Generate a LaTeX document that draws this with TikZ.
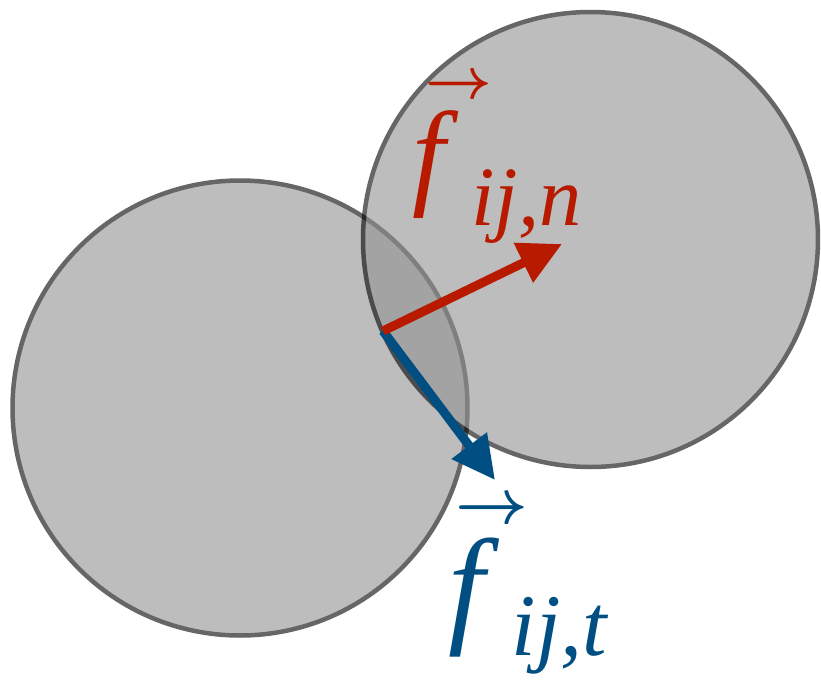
\RequirePackage{fix-cm}
\documentclass[tikz,border=0pt]{standalone}
\usepackage{fontspec}
\setmainfont{Liberation Serif}
\usepackage{tikz}
\usetikzlibrary{arrows.meta}
\usepackage{xcolor}
\definecolor{normalred}{RGB}{184,26,0}
\definecolor{tangentblue}{RGB}{0,78,130}

\begin{document}
\begin{tikzpicture}[
      x=0.1mm, y=-0.1mm,
      grain/.style={circle, draw=black, fill=black!43, line width=0.45mm,
                    minimum size=45.5mm, inner sep=0pt},
      force/.style={-{Triangle[length=4.3mm, width=4.2mm]}, line width=0.9mm},
      flabel/.style={anchor=base west, inner sep=0pt}
    ]
    \useasboundingbox (0,0) rectangle (821,683);
    \begin{scope}[transparency group, opacity=0.6]
      \node[grain] (pi) at (240,408) {};
    \end{scope}
    \begin{scope}[transparency group, opacity=0.6]
      \node[grain] (pj) at (590.5,239.5) {};
    \end{scope}
    \coordinate (contact) at (383,331);
    \coordinate (nend) at (562,244);
    \coordinate (tend) at (495,480);
    \draw[force, tangentblue] (contact) -- (tend);
    \draw[force, normalred] (contact) -- (nend);
    \node[flabel, text=normalred] (fn) at (412,193.5)
      {\fontsize{33.5}{38}\selectfont
       \rlap{\kern1.3mm\raisebox{9.55mm}{\fontsize{16.5}{16.5}\selectfont\boldmath$\rightarrow$}}%
       {\itshape f}\kern2.6mm\raisebox{-3.2mm}{\fontsize{24}{24}\selectfont\itshape ij,n}};
    \node[flabel, text=tangentblue] (ft) at (448,629)
      {\fontsize{37}{42}\selectfont
       \rlap{\kern0.7mm\raisebox{10.6mm}{\fontsize{18}{18}\selectfont\boldmath$\rightarrow$}}%
       {\itshape f}\kern2.7mm\raisebox{-2.6mm}{\fontsize{25}{25}\selectfont\itshape ij,t}};
  \end{tikzpicture}
\end{document}
